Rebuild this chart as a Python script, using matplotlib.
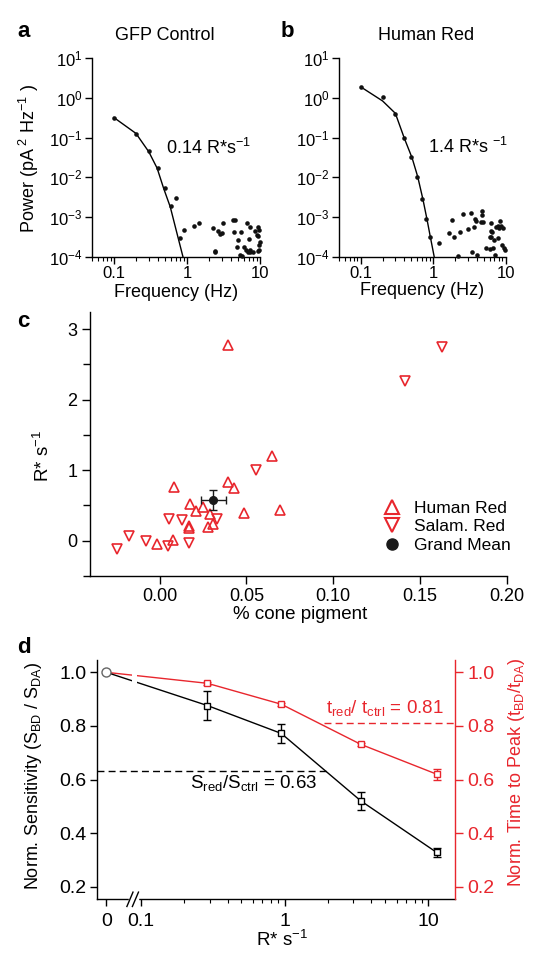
import numpy as np
import matplotlib
matplotlib.use("Agg")
import matplotlib.pyplot as plt
from matplotlib.lines import Line2D
from matplotlib.ticker import LogLocator, NullLocator, NullFormatter, FixedLocator

plt.rcParams['font.family'] = ['Liberation Sans', 'DejaVu Sans']
plt.rcParams['mathtext.fontset'] = 'custom'
plt.rcParams['mathtext.rm'] = 'Liberation Sans'
plt.rcParams['mathtext.it'] = 'Liberation Sans:italic'
plt.rcParams['mathtext.bf'] = 'Liberation Sans:bold'
plt.rcParams['axes.linewidth'] = 1.0
plt.rcParams['xtick.direction'] = 'out'
plt.rcParams['ytick.direction'] = 'out'

RED = '#e8262d'

# ---- panel a: GFP control power spectrum
gfp_freq = [0.1, 0.2, 0.3, 0.4, 0.5, 0.6, 0.7, 0.8, 0.9]
gfp_power = [0.32, 0.124, 0.047, 0.0169, 0.0053, 0.0019, 0.003, 0.0003, 0.00046]
gfp_hf_freq = [1.26, 1.46, 2.3, 2.4, 2.45, 2.7, 2.85, 3.0, 3.1, 4.3, 4.6, 4.4, 4.8, 5.05,
               5.4, 5.5, 5.6, 6.1, 6.4, 6.7, 7.2, 7.0, 7.2, 7.3, 8.1, 8.5, 9.1, 9.5,
               9.5, 9.6, 9.3, 9.8, 9.8, 9.9, 6.9]
gfp_hf_power = [6.0e-4, 7.0e-4, 5.2e-4, 1.4e-4, 1.3e-4, 4.5e-4, 3.7e-4, 4.0e-4, 7.0e-4,
                8.5e-4, 8.3e-4, 4.3e-4, 1.8e-4, 2.7e-4, 1.1e-4, 4.2e-4, 1.05e-4, 1.8e-4,
                1.5e-4, 7.0e-4, 5.6e-4, 2.8e-4, 1.5e-4, 1.3e-4, 1.3e-4, 4.4e-4, 3.5e-4,
                5.5e-4, 3.4e-4, 2.0e-4, 1.4e-4, 1.45e-4, 4.6e-4, 2.4e-4, 1.35e-4]
gfp_fit_freq = [0.1, 0.2, 0.3, 0.39, 0.48, 0.59, 0.71, 0.88]
gfp_fit_power = [0.32, 0.128, 0.044, 0.017, 0.0052, 0.0018, 0.00047, 0.0001]

# ---- panel b: Human Red power spectrum
red_freq = [0.1, 0.2, 0.3, 0.4, 0.5, 0.6, 0.7, 0.8, 0.9]
red_power = [1.93, 1.08, 0.40, 0.096, 0.032, 0.010, 0.0028, 0.00087, 0.00032]
red_hf_freq = [1.2, 1.65, 1.84, 1.93, 2.2, 2.33, 2.6, 3.0, 3.34, 3.45, 3.6, 3.8, 3.9, 4.0,
               4.7, 4.75, 4.5, 4.9, 5.4, 6.0, 6.2, 6.2, 6.5, 6.3, 6.1, 6.7, 7.0, 7.1,
               7.4, 7.9, 8.4, 7.8, 8.2, 8.7, 9.1, 8.8, 9.4, 9.8]
red_hf_power = [2.2e-4, 3.9e-4, 8.4e-4, 3.2e-4, 1.06e-4, 4.3e-4, 1.17e-3, 5.0e-4, 1.23e-3,
                1.3e-4, 5.7e-4, 9.0e-4, 8.0e-4, 1.1e-4, 1.4e-3, 1.15e-3, 7.6e-4, 7.6e-4,
                1.7e-4, 3.1e-4, 6.9e-4, 4.5e-4, 4.2e-4, 3.2e-4, 1.6e-4, 1.7e-4, 2.6e-4,
                1.1e-4, 5.5e-4, 2.9e-4, 7.9e-4, 6.0e-4, 5.2e-4, 5.8e-4, 5.4e-4, 2.0e-4,
                1.7e-4, 1.5e-4]
red_fit_freq = [0.1, 0.2, 0.3, 0.4, 0.51, 0.61, 0.72, 0.82, 0.91, 1.03]
red_fit_power = [1.9, 0.84, 0.41, 0.095, 0.031, 0.0104, 0.0028, 0.00087, 0.00032, 0.0001]

# ---- panel c: rate vs % cone pigment
human_x = [0.0392, 0.0646, 0.0084, 0.0397, 0.0426, 0.0176, 0.0209, 0.0253, 0.029, 0.0486,
           0.0696, 0.0168, 0.0168, 0.0281, 0.031, 0.0076, -0.0016]
human_y = [2.77, 1.20, 0.76, 0.83, 0.75, 0.52, 0.42, 0.48, 0.38, 0.39,
           0.43, 0.21, 0.18, 0.19, 0.24, 0.014, -0.047]
salam_x = [0.1626, 0.1412, 0.0556, 0.0057, 0.0128, 0.0333, -0.0174, -0.0243, -0.0078,
           0.0051, 0.0172]
salam_y = [2.75, 2.26, 1.0, 0.31, 0.29, 0.31, 0.057, -0.12, -0.014, -0.085, -0.04]
mean_x, mean_y = 0.031, 0.58
mean_xerr, mean_yerr = 0.007, 0.14

# ---- panel d: sensitivity and time to peak vs rate
intensity = [0, 0.29, 0.946, 3.39, 11.4]
sensitivity = [1.0, 0.876, 0.772, 0.52, 0.328]
sensitivity_err = [0, 0.055, 0.035, 0.032, 0.016]
time_to_peak = [1.0, 0.959, 0.881, 0.731, 0.62]
time_to_peak_err = [0, 0.005, 0.005, 0.006, 0.02]
S_RATIO = 0.63
T_RATIO = 0.81
ZERO_POS = 0.0575  # where "0" sits on the broken log axis

fig = plt.figure(figsize=(5.42, 9.64), dpi=100)
W, H = 542.0, 964.0


def axes_px(l, t, r, b):
    return fig.add_axes([l / W, 1 - b / H, (r - l) / W, (b - t) / H])


def fxy(x, y):
    return x / W, 1 - y / H


def spectrum(ax, f, p, hf, hp, ff, fp):
    ax.plot(ff, fp, color='k', lw=1.0, zorder=2)
    ax.plot(f, p, 'o', ms=3.3, color='#111111', mew=0, clip_on=False, zorder=3)
    ax.plot(hf, hp, 'o', ms=3.3, color='#111111', mew=0, clip_on=False, zorder=3)
    ax.set_xscale('log')
    ax.set_yscale('log')
    ax.set_xlim(0.05, 10)
    ax.set_ylim(1e-4, 10)
    ax.set_xticks([0.1, 1, 10])
    ax.set_xticklabels(['0.1', '1', '10'])
    ax.xaxis.set_minor_locator(LogLocator(base=10, subs=np.arange(2, 10)))
    ax.xaxis.set_minor_formatter(NullFormatter())
    ax.yaxis.set_major_locator(LogLocator(base=10, numticks=12))
    ax.yaxis.set_minor_locator(NullLocator())
    ax.spines['top'].set_visible(False)
    ax.spines['right'].set_visible(False)
    ax.tick_params(which='major', length=5, width=1, labelsize=12, pad=2)
    ax.tick_params(which='minor', length=3, width=0.8)


# panel a
axa = axes_px(92, 58.3, 260, 256.7)
spectrum(axa, gfp_freq, gfp_power, gfp_hf_freq, gfp_hf_power, gfp_fit_freq, gfp_fit_power)
axa.set_xlabel('Frequency (Hz)', fontsize=13)
axa.xaxis.set_label_coords(*fxy(176, 284), transform=fig.transFigure)
axa.set_ylabel('Power (pA$^{\\ 2}$ Hz$^{-1}$ )', fontsize=13, va='center')
axa.yaxis.set_label_coords(*fxy(29, 158), transform=fig.transFigure)
fig.text(*fxy(164.7, 36), 'GFP Control', fontsize=13, ha='center', va='center')
fig.text(*fxy(165.7, 154.3), '0.14 R*s$^{-1}$', fontsize=13, ha='left', va='baseline')
fig.text(*fxy(17, 37), 'a', fontsize=16, fontweight='bold', va='baseline')

# panel b
axb = axes_px(339, 58.3, 505.7, 256.7)
spectrum(axb, red_freq, red_power, red_hf_freq, red_hf_power, red_fit_freq, red_fit_power)
axb.set_xlabel('Frequency (Hz)', fontsize=13)
axb.xaxis.set_label_coords(*fxy(422.5, 282), transform=fig.transFigure)
fig.text(*fxy(425.8, 35), 'Human Red', fontsize=13, ha='center', va='center')
fig.text(*fxy(428.3, 153.3), '1.4 R*s $^{-1}$', fontsize=13, ha='left', va='baseline')
fig.text(*fxy(280.5, 36.7), 'b', fontsize=16, fontweight='bold', va='baseline')

# panel c
axc = axes_px(90, 311.7, 507, 575.7)
axc.plot(human_x, human_y, '^', ms=7, mfc='none', mec=RED, mew=1.2, zorder=3)
axc.plot(salam_x, salam_y, 'v', ms=7, mfc='none', mec=RED, mew=1.2, zorder=3)
axc.errorbar(mean_x, mean_y, xerr=mean_xerr, yerr=mean_yerr, fmt='o', ms=5.5,
             color='#1a1a1a', ecolor='#1a1a1a', elinewidth=1, capsize=3, capthick=1, zorder=4)
axc.set_xlim(-0.04, 0.20)
axc.set_ylim(-0.5, 3.25)
axc.set_xticks([0.0, 0.05, 0.10, 0.15, 0.20])
axc.set_xticklabels(['0.00', '0.05', '0.10', '0.15', '0.20'])
axc.set_yticks([0, 1, 2, 3])
axc.yaxis.set_minor_locator(FixedLocator([-0.5, 0.5, 1.5, 2.5]))
axc.spines['top'].set_visible(False)
axc.spines['right'].set_visible(False)
axc.tick_params(which='major', length=6, width=1, labelsize=13, pad=3)
axc.tick_params(axis='y', which='minor', length=5, width=1)
axc.set_xlabel('% cone pigment', fontsize=13.5)
axc.xaxis.set_label_coords(*fxy(300, 606), transform=fig.transFigure)
axc.set_ylabel('R* s$^{-1}$', fontsize=13.5, va='center')
axc.yaxis.set_label_coords(*fxy(43, 456), transform=fig.transFigure)
handles = [
    Line2D([], [], ls='none', marker='^', ms=9.5, mfc='none', mec=RED, mew=1.5),
    Line2D([], [], ls='none', marker='v', ms=9.5, mfc='none', mec=RED, mew=1.5),
    Line2D([], [], ls='none', marker='o', ms=8, color='#1a1a1a'),
]
axc.legend(handles, ['Human Red', 'Salam. Red', 'Grand Mean'], loc='upper left',
           bbox_to_anchor=fxy(383, 501), bbox_transform=fig.transFigure, frameon=False,
           fontsize=12.5, borderpad=0, borderaxespad=0, handlelength=1.0,
           handletextpad=0.8, labelspacing=0.18)
fig.text(*fxy(17, 326.7), 'c', fontsize=16, fontweight='bold', va='baseline')

# panel d
axd = axes_px(96.7, 660, 455, 899.3)
xs = [ZERO_POS if v == 0 else v for v in intensity]
axd.set_xscale('log')
axd.set_xlim(0.0492, 15.3)
axd.set_ylim(0.153, 1.046)
axd.plot(xs, time_to_peak, color=RED, lw=1.0, zorder=2)
axd.errorbar(xs[1:], time_to_peak[1:], yerr=time_to_peak_err[1:], fmt='s', ms=4.8,
             mfc='white', mec=RED, mew=1.0, ecolor=RED, elinewidth=1, capsize=3, zorder=4)
axd.plot(xs, sensitivity, color='k', lw=1.0, zorder=2)
axd.errorbar(xs[1:], sensitivity[1:], yerr=sensitivity_err[1:], fmt='s', ms=4.8,
             mfc='white', mec='k', mew=1.0, ecolor='k', elinewidth=1, capsize=3, zorder=4)
axd.plot(xs[0], sensitivity[0], 'o', ms=6.5, mfc='white', mec='#666666', mew=1.0, zorder=5)
# gap in the curves at the axis break
axd.axvspan(0.0862, 0.0933, ymin=0.84, ymax=0.98, color='white', lw=0, zorder=3)
axd.hlines(S_RATIO, 0.0492, 1.98, colors='k', linestyles=(0, (5, 3)), lw=1.0, zorder=1)
axd.hlines(T_RATIO, 1.88, 15.3, colors=RED, linestyles=(0, (5, 3)), lw=1.0, zorder=1)
axd.text(0.22, 0.567, 'S$_{\\rm red}$/S$_{\\rm ctrl}$ = 0.63', fontsize=13.5,
         ha='left', va='baseline')
axd.text(1.93, 0.847, 't$_{\\rm red}$/ t$_{\\rm ctrl}$ = 0.81', fontsize=13.5,
         ha='left', va='baseline', color=RED)
axd.xaxis.set_major_locator(FixedLocator([ZERO_POS, 0.1, 1, 10]))
axd.set_xticklabels(['0', '0.1', '1', '10'])
axd.xaxis.set_minor_locator(FixedLocator([0.2, 0.3, 0.4, 0.5, 0.6, 0.7, 0.8, 0.9,
                                          2, 3, 4, 5, 6, 7, 8, 9]))
axd.xaxis.set_minor_formatter(NullFormatter())
axd.set_yticks([0.2, 0.4, 0.6, 0.8, 1.0])
axd.set_yticklabels(['0.2', '0.4', '0.6', '0.8', '1.0'])
axd.spines['top'].set_visible(False)
axd.spines['right'].set_visible(False)
axd.tick_params(which='major', length=5, width=1, labelsize=14, pad=2.5)
axd.tick_params(axis='x', which='major', pad=5)
axd.tick_params(which='minor', length=3, width=0.8)
# axis break marks
tr = axd.get_xaxis_transform()
axd.plot([0.0835, 0.0935], [0, 0], transform=tr, color='white', lw=2.5, clip_on=False, zorder=5)
for xc in (0.0838, 0.0915):
    axd.plot([xc / 1.05, xc * 1.05], [-0.03, 0.03], transform=tr, color='k', lw=1.0,
             clip_on=False, zorder=6)
axd.set_xlabel('R* s$^{-1}$', fontsize=13.5)
axd.xaxis.set_label_coords(*fxy(282, 930), transform=fig.transFigure)
axd.set_ylabel('Norm. Sensitivity (S$_{\\rm BD}$ / S$_{\\rm DA}$)', fontsize=13, va='center')
axd.yaxis.set_label_coords(*fxy(33.6, 776), transform=fig.transFigure)

axr = axd.twinx()
axr.set_ylim(0.153, 1.046)
axr.set_yticks([0.2, 0.4, 0.6, 0.8, 1.0])
axr.set_yticklabels(['0.2', '0.4', '0.6', '0.8', '1.0'])
for s in ('top', 'left', 'bottom'):
    axr.spines[s].set_visible(False)
axr.spines['right'].set_color(RED)
axr.tick_params(axis='y', colors=RED, length=6, width=1, labelsize=14, pad=3)
axr.set_ylabel('Norm. Time to Peak (t$_{\\rm BD}$/t$_{\\rm DA}$)', fontsize=13,
               color=RED, va='center')
axr.yaxis.set_label_coords(*fxy(516.7, 772), transform=fig.transFigure)
fig.text(*fxy(17, 653), 'd', fontsize=16, fontweight='bold', va='baseline')

fig.savefig('out.png', dpi=100)
